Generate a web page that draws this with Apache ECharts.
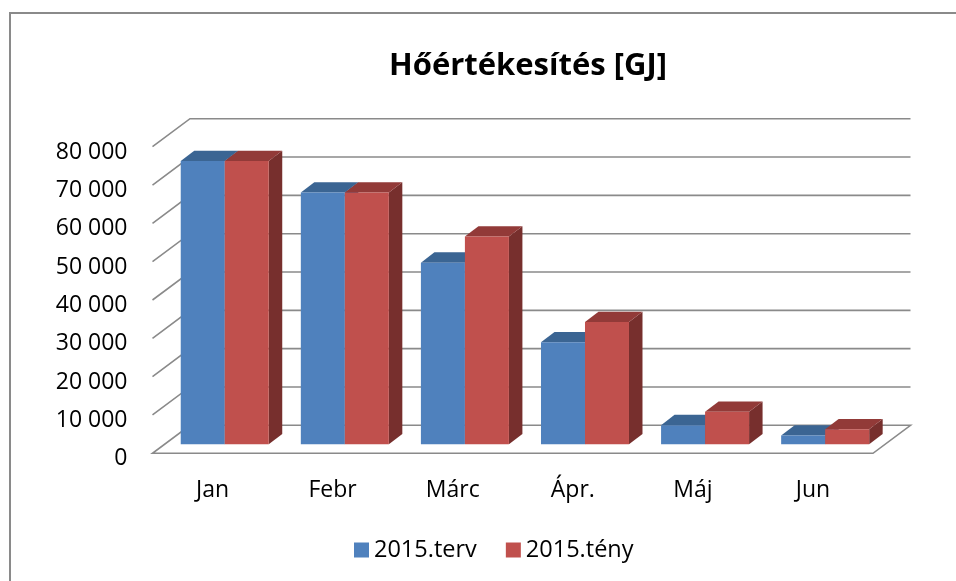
<!DOCTYPE html>
<html>
<head>
<meta charset="utf-8">
<script src="https://cdn.jsdelivr.net/npm/echarts@6/dist/echarts.min.js"></script>
<style>
html,body{margin:0;padding:0;background:#fff;}
#chart{width:956px;height:581px;}
</style>
</head>
<body>
<div id="chart"></div>
<script>
const categories = ['Jan', 'Febr', 'Márc', 'Ápr.', 'Máj', 'Jun'];
const terv = [73900, 65700, 47400, 26600, 5000, 2300];
const teny = [73900, 65700, 54200, 31900, 8500, 3900];
const yTicks = [0, 10000, 20000, 30000, 40000, 50000, 60000, 70000, 80000];
const seriesNames = ['2015.terv', '2015.tény'];
const titleText = 'Hőértékesítés [GJ]';

const FONT = 'Open Sans';
const GRID_COLOR = '#8a8a8a';
const DX = 37.5, DY = -28;      // wall depth
const DXF = 12.2, DYF = -9;     // bar front plane offset
const BDX = 13.5, BDY = -10.3;  // bar depth
const BW = 44;

const palettes = [
  { front: '#4f81bd', top: '#3b6593', side: '#2f5180' },
  { front: '#c0504d', top: '#923a38', side: '#772f2d' }
];

function wallRender(params, api) {
  const v = api.value(1);
  const cs = params.coordSys;
  const x0 = cs.x, x1 = cs.x + cs.width;
  const y = api.coord([0, v])[1];
  if (v === 0) {
    return {
      type: 'polygon',
      shape: { points: [[x0, y], [x1, y], [x1 + DX, y + DY], [x0 + DX, y + DY]] },
      style: { fill: '#ffffff', stroke: GRID_COLOR, lineWidth: 1.6 }
    };
  }
  return {
    type: 'polyline',
    shape: { points: [[x0, y], [x0 + DX, y + DY], [x1 + DX, y + DY]] },
    style: { fill: null, stroke: GRID_COLOR, lineWidth: 1.6 }
  };
}

function barRender(sIdx) {
  const pal = palettes[sIdx];
  return function (params, api) {
    const i = api.value(0);
    const v = api.value(1);
    const base = api.coord([i, 0]);
    const top = api.coord([i, v]);
    const xl = base[0] + (sIdx === 0 ? -BW : 0) + DXF;
    const xr = xl + BW;
    const yb = base[1] + DYF;
    const yt = top[1] + DYF;
    return {
      type: 'group',
      children: [
        { type: 'polygon', shape: { points: [[xr, yt], [xr + BDX, yt + BDY], [xr + BDX, yb + BDY], [xr, yb]] }, style: { fill: pal.side } },
        { type: 'polygon', shape: { points: [[xl, yt], [xr, yt], [xr + BDX, yt + BDY], [xl + BDX, yt + BDY]] }, style: { fill: pal.top } },
        { type: 'rect', shape: { x: xl, y: yt, width: BW, height: yb - yt }, style: { fill: pal.front } }
      ]
    };
  };
}

const chart = echarts.init(document.getElementById('chart'), null, { renderer: 'canvas' });
chart.setOption({
  animation: false,
  backgroundColor: '#ffffff',
  graphic: [{
    type: 'rect',
    shape: { x: 10, y: 13, width: 960, height: 600 },
    style: { fill: null, stroke: '#8a8a8a', lineWidth: 2 },
    z: 100
  }],
  title: {
    text: titleText,
    left: 384,
    top: 46,
    textStyle: { fontFamily: FONT, fontWeight: 'bold', fontSize: 31, color: '#000' }
  },
  legend: {
    data: seriesNames,
    left: 349,
    top: 533,
    icon: 'rect',
    itemWidth: 15,
    itemHeight: 15,
    itemGap: 29,
    textStyle: { fontFamily: FONT, fontSize: 23.5, color: '#000' }
  },
  grid: { left: 152.5, right: 83, top: 146.7, bottom: 127.7, containLabel: false },
  xAxis: {
    type: 'category',
    data: categories,
    axisLine: { show: false },
    axisTick: { show: false },
    axisLabel: { margin: 26, fontFamily: FONT, fontSize: 23, color: '#000' },
    splitLine: { show: false }
  },
  yAxis: {
    type: 'value',
    min: 0,
    max: 80000,
    interval: 10000,
    axisLine: { show: false },
    axisTick: { show: false },
    splitLine: { show: false },
    axisLabel: {
      margin: 25,
      verticalAlign: 'top',
      lineHeight: 11,
      fontFamily: FONT,
      fontSize: 23,
      color: '#000',
      formatter: function (v) { return v === 0 ? '0' : (v / 1000) + ' 000'; }
    }
  },
  series: [
    {
      name: 'walls',
      type: 'custom',
      renderItem: wallRender,
      clip: false,
      silent: true,
      data: yTicks.map(function (v) { return [0, v]; }),
      encode: { x: 0, y: 1 },
      z: 1
    },
    {
      name: seriesNames[0],
      type: 'custom',
      renderItem: barRender(0),
      clip: false,
      itemStyle: { color: palettes[0].front },
      data: terv.map(function (v, i) { return [i, v]; }),
      encode: { x: 0, y: 1 },
      z: 2
    },
    {
      name: seriesNames[1],
      type: 'custom',
      renderItem: barRender(1),
      clip: false,
      itemStyle: { color: palettes[1].front },
      data: teny.map(function (v, i) { return [i, v]; }),
      encode: { x: 0, y: 1 },
      z: 3
    }
  ]
});
</script>
</body>
</html>
